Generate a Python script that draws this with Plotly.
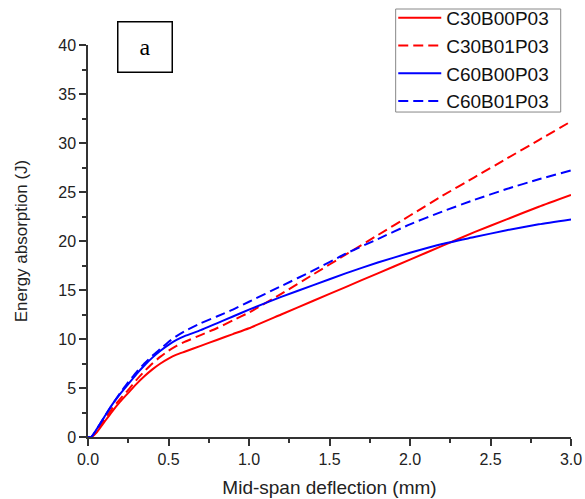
import plotly.graph_objects as go

deflection = [0.0, 0.02, 0.05, 0.1, 0.15, 0.2, 0.25, 0.3, 0.35, 0.4, 0.45, 0.5, 0.55, 0.6,
              0.7, 0.8, 0.9, 1.0, 1.2, 1.4, 1.6, 1.8, 2.0, 2.2, 2.4, 2.6, 2.8, 3.0]

c30b00p03 = [0.0, 0.0, 0.4, 1.5, 2.6, 3.6, 4.5, 5.4, 6.2, 6.9, 7.5, 8.0, 8.4, 8.7,
             9.3, 9.9, 10.5, 11.1, 12.5, 13.9, 15.3, 16.7, 18.1, 19.5, 20.9, 22.2, 23.5, 24.7]
c30b01p03 = [0.0, 0.0, 0.5, 1.7, 2.9, 3.9, 4.8, 5.8, 6.7, 7.5, 8.2, 8.8, 9.3, 9.7,
             10.4, 11.1, 11.9, 12.7, 14.6, 16.6, 18.6, 20.6, 22.6, 24.6, 26.5, 28.4, 30.3, 32.2]
c60b00p03 = [0.0, 0.0, 0.7, 2.0, 3.3, 4.4, 5.4, 6.4, 7.3, 8.1, 8.8, 9.4, 9.9, 10.3,
             10.9, 11.6, 12.3, 13.0, 14.3, 15.5, 16.7, 17.8, 18.8, 19.7, 20.4, 21.1, 21.7, 22.2]
c60b01p03 = [0.0, 0.0, 0.7, 2.0, 3.3, 4.5, 5.6, 6.6, 7.5, 8.3, 9.0, 9.7, 10.3, 10.8,
             11.6, 12.3, 13.0, 13.8, 15.4, 17.0, 18.7, 20.2, 21.7, 23.0, 24.2, 25.3, 26.3, 27.2]

series = [
    ("C30B00P03", c30b00p03, "#FF0000", "solid"),
    ("C30B01P03", c30b01p03, "#FF0000", "10px,5px"),
    ("C60B00P03", c60b00p03, "#0000FF", "solid"),
    ("C60B01P03", c60b01p03, "#0000FF", "10px,5px"),
]

fig = go.Figure()
for name, vals, color, dash in series:
    fig.add_trace(go.Scatter(x=deflection, y=vals, mode="lines", name=name,
                             line=dict(color=color, width=2, dash=dash, shape="spline", smoothing=0.5)))

axis_common = dict(showline=True, linecolor="#333333", linewidth=1.5, ticks="outside",
                   ticklen=7, tickwidth=1.5, tickcolor="#333333", showgrid=False, zeroline=False,
                   tickfont=dict(family="Liberation Sans, Arial", size=16, color="#222222"),
                   mirror=False, automargin=False)

fig.update_layout(
    width=585, height=499,
    margin=dict(l=88, r=14, t=45, b=62, autoexpand=False),
    paper_bgcolor="white", plot_bgcolor="white",
    font=dict(family="Liberation Sans, Arial", color="#222222"),
    xaxis=dict(range=[0, 3.0], dtick=0.5, tickformat=".1f",
               minor=dict(dtick=0.25, ticks="outside", ticklen=4, tickwidth=1.5, tickcolor="#333333"),
               title=dict(text="Mid-span deflection (mm)", font=dict(size=19), standoff=14),
               **axis_common),
    yaxis=dict(range=[0, 40], dtick=5,
               minor=dict(dtick=2.5, ticks="outside", ticklen=4, tickwidth=1.5, tickcolor="#333333"),
               title=dict(text="Energy absorption (J)", font=dict(size=17), standoff=26),
               **axis_common),
    legend=dict(x=0.632, y=1.1173, xanchor="left", yanchor="top",
                borderwidth=0, bgcolor="rgba(0,0,0,0)",
                font=dict(family="Liberation Sans, Arial", size=19, color="#111111"),
                tracegroupgap=0, itemwidth=43),
    showlegend=True,
)

# legend frame
fig.add_shape(type="rect", xref="paper", yref="paper",
              x0=0.637, x1=0.9787, y0=0.829, y1=1.0918,
              line=dict(color="#888888", width=1), fillcolor="white", layer="above")

fig.add_annotation(text="a", xref="paper", yref="paper", x=0.119, y=0.996,
                   xanchor="center", yanchor="middle", showarrow=False,
                   font=dict(family="Liberation Serif, Times New Roman", size=24, color="black"),
                   bordercolor="black", borderwidth=1.5, borderpad=0, width=53, height=49,
                   bgcolor="white")

fig.write_html("out.html")
